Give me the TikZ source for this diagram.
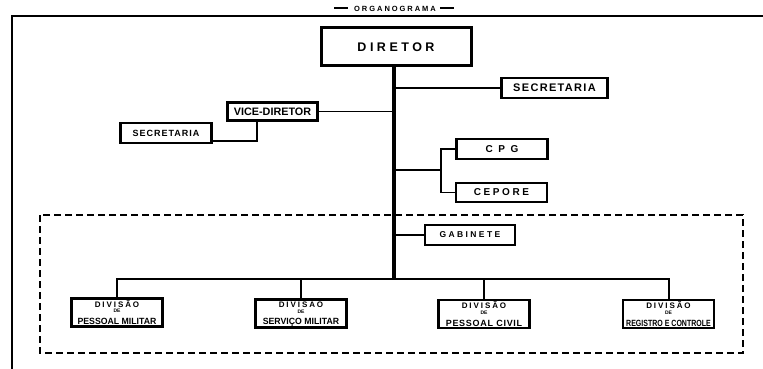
\documentclass[tikz,border=0pt]{standalone}
\usepackage{fontspec}
\setmainfont{Liberation Sans}
\newcommand{\lsp}[2]{\addfontfeatures{LetterSpace=#1}#2}
\newcommand{\tdash}{\rule[2.3pt]{14pt}{1.3pt}}
\tikzset{
  x=1pt, y=-1pt,
  box/.style={draw, line width=2.2pt, inner sep=0pt, font=\bfseries},
  conn/.style={line width=1.6pt},
  mainline/.style={line width=3.2pt},
  divconn/.style={line width=2pt},
  divbox/.style={box, minimum width=91pt, minimum height=28pt, align=center,
    font=\bfseries\fontsize{5}{5.5}\selectfont}
}
\begin{document}
\begin{tikzpicture}
\useasboundingbox (0,0) rectangle (763,369);
% frame
\draw[line width=2pt] (12,369) -- (12,16) -- (763,16);
\node[font=\bfseries\fontsize{7.5}{7.5}\selectfont, inner sep=0pt] (title) at (394,8.5) {\tdash\hspace{6pt}\lsp{26}{ORGANOGRAMA}\hspace{4pt}\tdash};
% boxes
\node[box, line width=3pt, minimum width=150pt, minimum height=38pt, font=\bfseries\fontsize{12.5}{12.5}\selectfont] (dir) at (396,47) {\lsp{28}{DIRETOR}};
\node[box, minimum width=106pt, minimum height=20pt, font=\bfseries\fontsize{11}{11}\selectfont] (secr) at (554.5,88) {\lsp{12}{SECRETARIA}};
\node[box, minimum width=90pt, minimum height=18pt, font=\bfseries\fontsize{10.8}{10.8}\selectfont] (vd) at (272.5,111.5) {VICE-DIRETOR};
\node[box, minimum width=91pt, minimum height=20pt, font=\bfseries\fontsize{9}{9}\selectfont] (secl) at (166,133) {\lsp{11}{SECRETARIA}};
\node[box, minimum width=91pt, minimum height=20pt, font=\bfseries\fontsize{10}{10}\selectfont] (cpg) at (502,149) {\lsp{55}{CPG}};
\node[box, minimum width=91pt, minimum height=19pt, font=\bfseries\fontsize{10}{10}\selectfont] (cep) at (501.5,192.5) {\lsp{26}{CEPORE}};
\node[box, minimum width=90pt, minimum height=20pt, font=\bfseries\fontsize{8.5}{8.5}\selectfont] (gab) at (470,235) {\lsp{28}{GABINETE}};
% dashed frame
\draw[line width=1.4pt, dash pattern=on 7pt off 4pt] (40,215) rectangle (743,353);
% divisions
\newcommand{\divtext}[2]{{\fontsize{8}{6}\selectfont\addfontfeatures{LetterSpace=24}DIVISÃO}\\DE\\[4.3pt]{\fontsize{9}{8}\selectfont\scalebox{#1}[1]{#2}}}
\node[divbox] (d1) at (117,312.5) {\divtext{0.97}{PESSOAL MILITAR}};
\node[divbox] (d2) at (301,313.5) {\divtext{0.97}{SERVIÇO MILITAR}};
\node[divbox] (d3) at (484,314) {\divtext{1}{\addfontfeatures{LetterSpace=8}PESSOAL CIVIL}};
\node[divbox] (d4) at (668.5,314) {\divtext{0.78}{REGISTRO E CONTROLE}};
% connectors
\coordinate (mtop) at (394,67);
\coordinate (mbot) at (394,279);
\draw[mainline] (dir.south -| mtop) -- (mbot);
\draw[conn] (secr.west) -- (secr.west -| mtop);
\draw[conn] (vd.east) -- (vd.east -| mtop);
\coordinate (vdk) at (257,141);
\draw[conn] (vd.south -| vdk) -- (vdk) -- (vdk -| secl.east);
\coordinate (br) at (441,170);
\draw[conn] (br -| mtop) -- (br);
\draw[conn] (cpg.west) -- (cpg.west -| br) -- (cep.west -| br) -- (cep.west);
\draw[conn] (gab.west) -- (gab.west -| mtop);
\draw[divconn] (d1.north) -- (d1.north |- mbot) -- (d4.north |- mbot) -- (d4.north);
\draw[divconn] (d2.north) -- (d2.north |- mbot);
\draw[divconn] (d3.north) -- (d3.north |- mbot);
\end{tikzpicture}
\end{document}
